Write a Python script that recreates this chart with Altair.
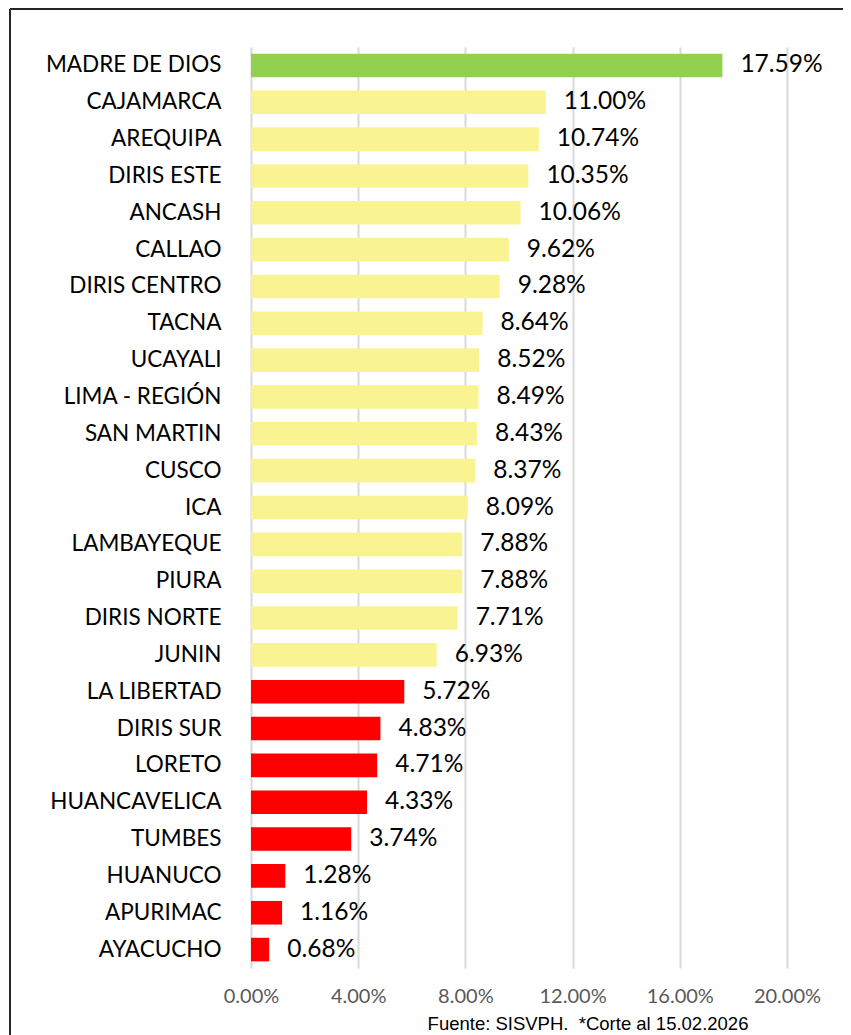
import altair as alt
import pandas as pd

regiones = ["MADRE DE DIOS", "CAJAMARCA", "AREQUIPA", "DIRIS ESTE", "ANCASH", "CALLAO",
            "DIRIS CENTRO", "TACNA", "UCAYALI", "LIMA - REGIÓN", "SAN MARTIN", "CUSCO",
            "ICA", "LAMBAYEQUE", "PIURA", "DIRIS NORTE", "JUNIN", "LA LIBERTAD",
            "DIRIS SUR", "LORETO", "HUANCAVELICA", "TUMBES", "HUANUCO", "APURIMAC", "AYACUCHO"]
valores = [17.59, 11.00, 10.74, 10.35, 10.06, 9.62, 9.28, 8.64, 8.52, 8.49, 8.43, 8.37,
           8.09, 7.88, 7.88, 7.71, 6.93, 5.72, 4.83, 4.71, 4.33, 3.74, 1.28, 1.16, 0.68]
grupos = ["alto"] + ["medio"] * 16 + ["bajo"] * 8
ticks = [0, 0.04, 0.08, 0.12, 0.16, 0.20]
fuente = "Fuente: SISVPH.\u00a0 *Corte al 15.02.2026"

df = pd.DataFrame({"region": regiones, "valor": [v / 100 for v in valores], "grupo": grupos})
uno = pd.DataFrame({"k": [0]})

x = alt.X("valor:Q", scale=alt.Scale(domain=[0, 0.2], nice=False),
          axis=alt.Axis(values=ticks, format=".2%", title=None, domain=False, ticks=False,
                        grid=True, gridColor="#D9D9D9", gridWidth=2, labelColor="#595959",
                        labelFont="Lato", labelFontSize=20, labelPadding=18,
                        labelFlush=False, labelOverlap=False))
y = alt.Y("region:N", sort=regiones,
          scale=alt.Scale(paddingInner=0.36, paddingOuter=0.18),
          axis=alt.Axis(title=None, domain=False, ticks=False, labelColor="#000000",
                        labelFont="Lato", labelFontSize=22.5, labelPadding=30))

bars = alt.Chart(df).mark_bar().encode(
    x=x, y=y,
    color=alt.Color("grupo:N", scale=alt.Scale(domain=["alto", "medio", "bajo"],
                                               range=["#92D050", "#FAF392", "#FF0000"]),
                    legend=None))

labels = alt.Chart(df).mark_text(align="left", baseline="middle", dx=18, font="Lato",
                                 fontSize=24.5, color="#000000").encode(
    x="valor:Q", y=alt.Y("region:N", sort=regiones),
    text=alt.Text("valor:Q", format=".2%"))

frame_left = alt.Chart(uno).mark_rule(color="#262626", strokeWidth=2).encode(
    x=alt.value(-241), y=alt.value(-38), y2=alt.value(1000))
frame_top = alt.Chart(uno).mark_rule(color="#262626", strokeWidth=2).encode(
    x=alt.value(-241), x2=alt.value(592), y=alt.value(-38))

footer = alt.Chart(uno).mark_text(align="center", baseline="alphabetic", font="Liberation Sans",
                                  fontSize=18.5, color="#000000").encode(
    x=alt.value(337), y=alt.value(983), text=alt.value(fuente))

chart = alt.layer(bars, labels, frame_left, frame_top, footer).properties(
    width=536, height=921,
    padding={"left": 243, "top": 39, "right": 56, "bottom": 67},
    autosize=alt.AutoSizeParams(type="none"),
).configure_view(stroke=None)

chart.save("out.html", embed_options={"renderer": "svg", "actions": False})
